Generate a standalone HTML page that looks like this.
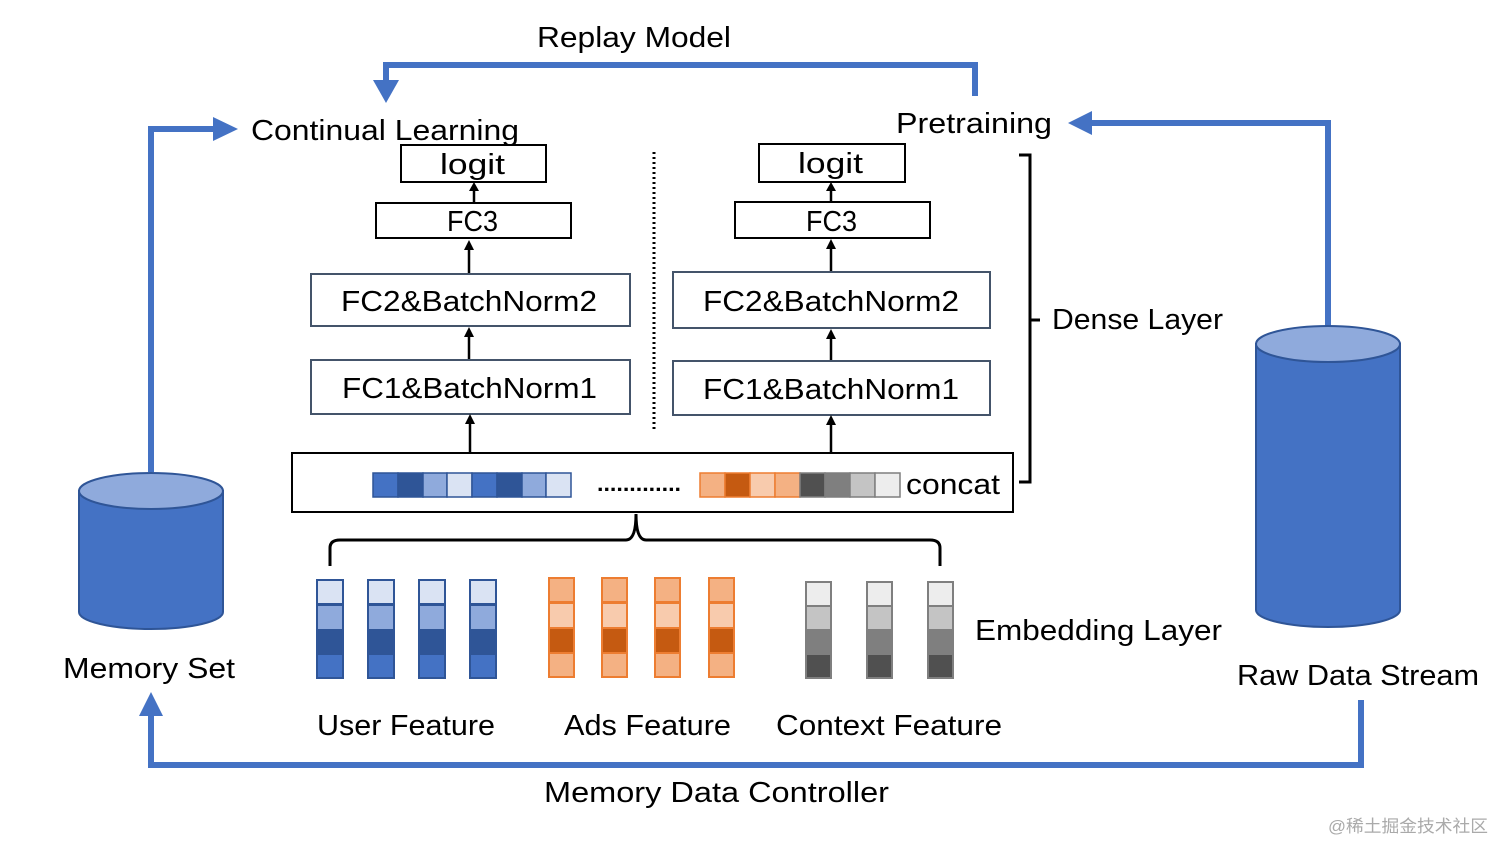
<!DOCTYPE html>
<html><head><meta charset="utf-8"><style>
html,body{margin:0;padding:0;background:#fff;}
svg{display:block;}
text{font-family:"Liberation Sans","Noto Sans CJK SC",sans-serif;fill:#000;}
</style></head><body>
<svg width="1512" height="859" viewBox="0 0 1512 859" xmlns="http://www.w3.org/2000/svg">
<g fill="none" stroke="#4472C4" stroke-width="6">
<polyline points="975,96 975,65 386,65 386,84"/>
<polyline points="151,472 151,129 216,129"/>
<polyline points="1328,326 1328,123 1090,123"/>
<polyline points="1361,700 1361,765 151,765 151,714"/>
</g>
<g fill="#4472C4">
<polygon points="373,80 399,80 386,103"/>
<polygon points="213,117 213,141 238,129"/>
<polygon points="1092,111 1092,135 1068,123"/>
<polygon points="139,716 163,716 151,692"/>
</g>
<g stroke="#2F5597" stroke-width="2">
<path d="M79,491 L79,612 A72,17 0 0 0 223,612 L223,491 Z" fill="#4472C4"/>
<ellipse cx="151" cy="491" rx="72" ry="18" fill="#8FAADC"/>
<path d="M1256,344 L1256,610 A72,17 0 0 0 1400,610 L1400,344 Z" fill="#4472C4"/>
<ellipse cx="1328" cy="344" rx="72" ry="18" fill="#8FAADC"/>
</g>
<g fill="#fff" stroke-width="2">
<rect x="401" y="145" width="145" height="37" stroke="#000"/>
<rect x="376" y="203" width="195" height="35" stroke="#000"/>
<rect x="311" y="274" width="319" height="52" stroke="#44546A"/>
<rect x="311" y="360" width="319" height="54" stroke="#44546A"/>
<rect x="759" y="144" width="146" height="38" stroke="#000"/>
<rect x="735" y="202" width="195" height="36" stroke="#000"/>
<rect x="673" y="272" width="317" height="56" stroke="#44546A"/>
<rect x="673" y="361" width="317" height="54" stroke="#44546A"/>
<rect x="292" y="453" width="721" height="59" stroke="#000"/>
</g>
<g stroke="#000" stroke-width="2.5" fill="none">
<line x1="474" y1="203" x2="474" y2="188"/>
<line x1="469" y1="273" x2="469" y2="248"/>
<line x1="469" y1="359" x2="469" y2="334"/>
<line x1="470" y1="452" x2="470" y2="422"/>
<line x1="831" y1="202" x2="831" y2="188"/>
<line x1="831" y1="271" x2="831" y2="248"/>
<line x1="831" y1="360" x2="831" y2="336"/>
<line x1="831" y1="452" x2="831" y2="423"/>
</g>
<g fill="#000">
<polygon points="474,182 469,191 479,191"/>
<polygon points="469,240 464,250 474,250"/>
<polygon points="469,327 464,337 474,337"/>
<polygon points="470,414 465,424 475,424"/>
<polygon points="831,182 826,191 836,191"/>
<polygon points="831,239 826,249 836,249"/>
<polygon points="831,329 826,339 836,339"/>
<polygon points="831,415 826,425 836,425"/>
</g>
<line x1="654" y1="152" x2="654" y2="432" stroke="#000" stroke-width="3" stroke-dasharray="2,3"/>
<path d="M1019,155 L1030,155 L1030,482 L1019,482 M1030,320 L1040,320" fill="none" stroke="#000" stroke-width="3"/>
<path d="M330,566 L330,548 Q330,540 340,540 L626,540 Q636,540 636,514 Q636,540 646,540 L930,540 Q940,540 940,548 L940,566" fill="none" stroke="#000" stroke-width="3"/>
<g stroke-width="1.5">
<g stroke="#2F5597">
<rect x="373" y="473" width="25" height="24" fill="#4472C4"/>
<rect x="398" y="473" width="25" height="24" fill="#2F5597"/>
<rect x="423" y="473" width="24" height="24" fill="#8FAADC"/>
<rect x="447" y="473" width="25" height="24" fill="#DAE3F3"/>
<rect x="472" y="473" width="25" height="24" fill="#4472C4"/>
<rect x="497" y="473" width="25" height="24" fill="#2F5597"/>
<rect x="522" y="473" width="24" height="24" fill="#8FAADC"/>
<rect x="546" y="473" width="25" height="24" fill="#DAE3F3"/>
</g>
<g stroke="#ED7D31">
<rect x="700" y="473" width="25" height="24" fill="#F4B183"/>
<rect x="725" y="473" width="25" height="24" fill="#C55A11"/>
<rect x="750" y="473" width="25" height="24" fill="#F8CBAD"/>
<rect x="775" y="473" width="25" height="24" fill="#F4B183"/>
</g>
<g stroke="#7F7F7F">
<rect x="800" y="473" width="25" height="24" fill="#505050"/>
<rect x="825" y="473" width="25" height="24" fill="#7F7F7F"/>
<rect x="850" y="473" width="25" height="24" fill="#C4C4C4"/>
<rect x="875" y="473" width="25" height="24" fill="#EDEDED"/>
</g>
</g>
<text x="597" y="491" font-size="22" font-weight="bold" textLength="84" lengthAdjust="spacingAndGlyphs">.............</text>
<g stroke-width="2">
<g stroke="#2F5597">
<g id="bc"><rect x="317" y="580" width="26" height="24" fill="#DAE3F3"/><rect x="317" y="605" width="26" height="25" fill="#8FAADC"/><rect x="317" y="630" width="26" height="24" fill="#2F5597"/><rect x="317" y="654" width="26" height="24" fill="#4472C4"/></g>
<use href="#bc" x="51"/><use href="#bc" x="102"/><use href="#bc" x="153"/>
</g>
<g stroke="#ED7D31">
<g id="oc"><rect x="549" y="578" width="25" height="24" fill="#F4B183"/><rect x="549" y="603" width="25" height="25" fill="#F8CBAD"/><rect x="549" y="628" width="25" height="25" fill="#C55A11"/><rect x="549" y="653" width="25" height="24" fill="#F4B183"/></g>
<use href="#oc" x="53"/><use href="#oc" x="106"/><use href="#oc" x="160"/>
</g>
<g stroke="#7F7F7F">
<g id="gc"><rect x="806" y="582" width="25" height="24" fill="#EDEDED"/><rect x="806" y="606" width="25" height="24" fill="#C4C4C4"/><rect x="806" y="630" width="25" height="24" fill="#7F7F7F"/><rect x="806" y="654" width="25" height="24" fill="#505050"/></g>
<use href="#gc" x="61"/><use href="#gc" x="122"/>
</g>
</g>
<g font-size="29">
<text x="537" y="47" textLength="194" lengthAdjust="spacingAndGlyphs">Replay Model</text>
<text x="251" y="140" textLength="268" lengthAdjust="spacingAndGlyphs">Continual Learning</text>
<text x="896" y="133" textLength="156" lengthAdjust="spacingAndGlyphs">Pretraining</text>
<text x="440" y="174" textLength="65" lengthAdjust="spacingAndGlyphs">logit</text>
<text x="798" y="173" textLength="65" lengthAdjust="spacingAndGlyphs">logit</text>
<text x="447" y="231" textLength="51" lengthAdjust="spacingAndGlyphs">FC3</text>
<text x="806" y="231" textLength="51" lengthAdjust="spacingAndGlyphs">FC3</text>
<text x="341" y="311" textLength="256" lengthAdjust="spacingAndGlyphs">FC2&amp;BatchNorm2</text>
<text x="703" y="311" textLength="256" lengthAdjust="spacingAndGlyphs">FC2&amp;BatchNorm2</text>
<text x="342" y="398" textLength="255" lengthAdjust="spacingAndGlyphs">FC1&amp;BatchNorm1</text>
<text x="703" y="399" textLength="256" lengthAdjust="spacingAndGlyphs">FC1&amp;BatchNorm1</text>
<text x="1052" y="329" textLength="171" lengthAdjust="spacingAndGlyphs">Dense Layer</text>
<text x="906" y="494" textLength="94" lengthAdjust="spacingAndGlyphs">concat</text>
<text x="975" y="640" textLength="247" lengthAdjust="spacingAndGlyphs">Embedding Layer</text>
<text x="63" y="678" textLength="172" lengthAdjust="spacingAndGlyphs">Memory Set</text>
<text x="1237" y="685" textLength="242" lengthAdjust="spacingAndGlyphs">Raw Data Stream</text>
<text x="317" y="735" textLength="178" lengthAdjust="spacingAndGlyphs">User Feature</text>
<text x="564" y="735" textLength="167" lengthAdjust="spacingAndGlyphs">Ads Feature</text>
<text x="776" y="735" textLength="226" lengthAdjust="spacingAndGlyphs">Context Feature</text>
<text x="544" y="802" textLength="345" lengthAdjust="spacingAndGlyphs">Memory Data Controller</text>
</g>
<text x="1328" y="832" font-size="17" style="fill:#aaa" textLength="160" lengthAdjust="spacingAndGlyphs">@稀土掘金技术社区</text>
</svg>
</body></html>
